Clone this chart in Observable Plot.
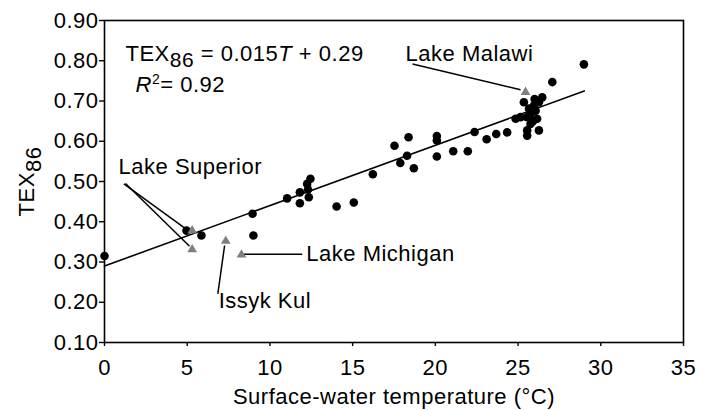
<!DOCTYPE html>
<html>
<head>
<meta charset="utf-8">
<script src="https://cdn.jsdelivr.net/npm/d3@7"></script>
<script src="https://cdn.jsdelivr.net/npm/@observablehq/plot@0.6"></script>
<style>
  html, body { margin: 0; padding: 0; background: #fff; }
  #chart { width: 701px; height: 410px; }
  #chart svg text { letter-spacing: 0.5px; }
</style>
</head>
<body>
<div id="chart"></div>
<script>
// Surface-water temperature (°C) of sampled lakes (black dots)
const temps = [0, 4.96, 5.86, 8.95, 9.0, 11.04, 11.81, 11.81, 12.25, 12.35, 12.45, 12.3,
  14.03, 15.07, 16.22, 17.53, 17.88, 18.29, 18.38, 18.7, 20.09, 20.09, 20.09, 21.08, 21.96,
  22.37, 23.1, 23.68, 24.34, 28.98, 27.07,
  25.35, 26.46, 26.26, 25.96, 25.66, 26.06, 25.75, 25.55, 26.15, 25.15, 24.85, 25.75,
  25.55, 25.55, 26.26, 26.0, 25.9];
// TEX86 values of the same lakes
const tex = [0.315, 0.378, 0.366, 0.42, 0.366, 0.458, 0.473, 0.446, 0.494, 0.461, 0.507, 0.48,
  0.438, 0.448, 0.518, 0.589, 0.546, 0.564, 0.61, 0.533, 0.613, 0.602, 0.562, 0.575, 0.575,
  0.623, 0.605, 0.618, 0.622, 0.791, 0.747,
  0.697, 0.709, 0.697, 0.689, 0.681, 0.676, 0.668, 0.66, 0.656, 0.66, 0.656, 0.643,
  0.627, 0.614, 0.627, 0.705, 0.65];

// Large lakes (grey triangles)
const lakeNames = ["Lake Superior", "Lake Superior", "Issyk Kul", "Lake Michigan", "Lake Malawi"];
const lakeTemps = [5.3, 5.3, 7.33, 8.28, 25.45];
const lakeTex = [0.378, 0.331, 0.352, 0.318, 0.722];

// Regression TEX86 = 0.015 T + 0.29
const slope = 0.015;
const intercept = 0.29;
const fitRange = [0, 29];

// Annotation labels
const labelText = ["Lake Malawi", "Lake Superior", "Lake Michigan", "Issyk Kul"];
const labelX = [18.2, 0.85, 12.2, 6.9];
const labelY = [0.818, 0.535, 0.319, 0.202];

// Leader lines
const leaderX1 = [18.62, 1.17, 1.27, 6.85, 8.42];
const leaderY1 = [0.792, 0.494, 0.495, 0.221, 0.319];
const leaderX2 = [25.15, 4.96, 5.14, 7.26, 11.95];
const leaderY2 = [0.728, 0.381, 0.339, 0.341, 0.319];

// Equation text anchors
const eqX = [1.27, 1.88];
const eqY = [0.817, 0.741];

// Ticks
const xTicks = [0, 5, 10, 15, 20, 25, 30, 35];
const yTicks = [0.1, 0.2, 0.3, 0.4, 0.5, 0.6, 0.7, 0.8, 0.9];

const points = temps.map((t, i) => ({t, v: tex[i]}));
const lakes = lakeNames.map((n, i) => ({n, t: lakeTemps[i], v: lakeTex[i]}));
const fit = fitRange.map(t => ({t, v: slope * t + intercept}));
const labels = labelText.map((s, i) => ({s, x: labelX[i], y: labelY[i]}));
const leaders = leaderX1.map((x1, i) => ({x1, y1: leaderY1[i], x2: leaderX2[i], y2: leaderY2[i]}));

const FS = 22;
const plot = Plot.plot({
  width: 701,
  height: 410,
  marginLeft: 104,
  marginRight: 18,
  marginTop: 20,
  marginBottom: 68,
  style: {fontFamily: "'Liberation Sans', Arial, sans-serif", fontSize: FS + "px", color: "#000", background: "#fff"},
  x: {domain: [0, 35]},
  y: {domain: [0.1, 0.9]},
  marks: [
    Plot.frame({stroke: "#000", strokeWidth: 1.6}),
    Plot.axisX({ticks: xTicks, tickSize: 4, tickPadding: 13, tickFormat: d3.format("d"),
      label: "Surface-water temperature (°C)", labelAnchor: "center", labelArrow: "none", labelOffset: 61,
      strokeWidth: 1.4}),
    Plot.axisY({ticks: yTicks, tickSize: 5, tickPadding: 1, tickFormat: d3.format(".2f"),
      label: "TEX86", labelAnchor: "center", labelArrow: "none", labelOffset: 86,
      strokeWidth: 1.4}),
    Plot.line(fit, {x: "t", y: "v", stroke: "#000", strokeWidth: 1.6}),
    Plot.link(leaders, {x1: "x1", y1: "y1", x2: "x2", y2: "y2", stroke: "#000", strokeWidth: 1.5}),
    Plot.dot(points, {x: "t", y: "v", r: 4.3, fill: "#000", stroke: "none"}),
    Plot.dot(lakes, {x: "t", y: "v", r: 3.6, symbol: "triangle", fill: "#7f7f7f", stroke: "none"}),
    Plot.text(labels, {x: "x", y: "y", text: "s", textAnchor: "start", fontSize: FS, fill: "#000"}),
    Plot.text([eqX[0]], {x: d => d, y: () => eqY[0], text: () => "EQ1", textAnchor: "start", fontSize: FS, fill: "#000", className: "eq1"}),
    Plot.text([eqX[1]], {x: d => d, y: () => eqY[1], text: () => "EQ2", textAnchor: "start", fontSize: FS, fill: "#000", className: "eq2"})
  ]
});

document.getElementById("chart").appendChild(plot);

const svg = d3.select(plot);
svg.selectAll(".eq1 text").html('TEX<tspan dy="6" font-size="21">86</tspan><tspan dy="-6"> = 0.015</tspan><tspan font-style="italic">T</tspan> + 0.29');
svg.selectAll(".eq2 text").html('<tspan font-style="italic">R</tspan><tspan dy="-8" font-size="14">2</tspan><tspan dy="8">= 0.92</tspan>');
svg.selectAll('g[aria-label="y-axis label"] text').html('TEX<tspan dy="7">86</tspan>');
</script>
</body>
</html>
